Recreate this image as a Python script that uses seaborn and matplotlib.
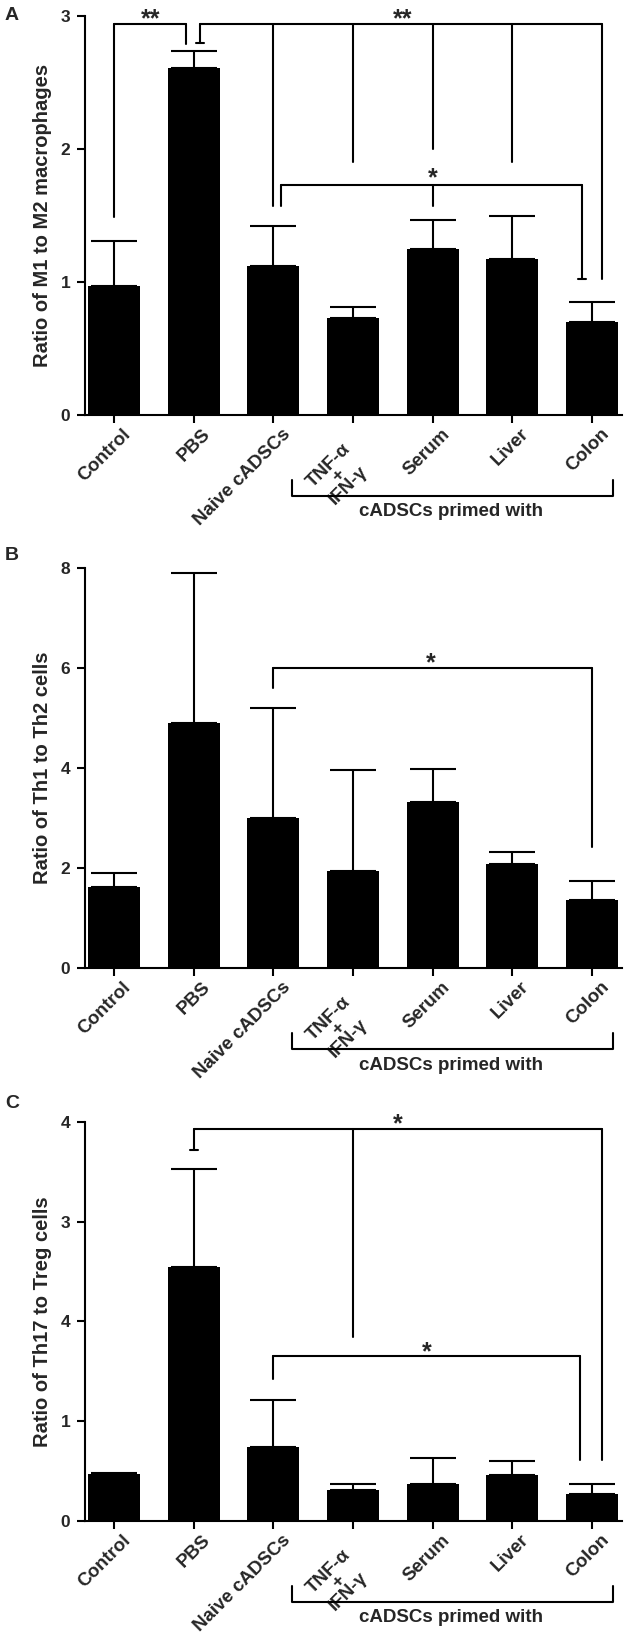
import numpy as np
import pandas as pd
import matplotlib
matplotlib.use("Agg")
import matplotlib.pyplot as plt
import matplotlib.transforms as mtransforms
import seaborn as sns

groups = ["Control", "PBS", "Naive cADSCs", "TNF-α\n+\nIFN-γ", "Serum", "Liver", "Colon"]

# panel A: M1/M2
m1m2_mean = [0.97, 2.61, 1.12, 0.73, 1.25, 1.17, 0.70]
m1m2_upper = [1.31, 2.74, 1.42, 0.81, 1.47, 1.50, 0.85]
# panel B: Th1/Th2
th1th2_mean = [1.62, 4.90, 3.00, 1.94, 3.32, 2.08, 1.36]
th1th2_upper = [1.90, 7.90, 5.20, 3.96, 3.97, 2.32, 1.74]
# panel C: Th17/Treg
th17treg_mean = [0.47, 2.55, 0.74, 0.31, 0.37, 0.46, 0.27]
th17treg_upper = [0.48, 3.53, 1.21, 0.37, 0.63, 0.60, 0.37]
th17treg_ticklabels = ["0", "1", "4", "3", "4"]

# significance brackets: drop positions, drop bottoms, bar height, serif ends, star and its centre
brackets_a = [
    dict(xs=[0, 0.9], bottoms=[1.49, 2.79], top=2.94, serif=[False, False], label="**", lx=0.46, ly=3.03),
    dict(xs=[1.08, 2.0, 3.0, 4.0, 5.0, 6.13], bottoms=[2.80, 1.57, 1.90, 2.0, 1.90, 1.02], top=2.94,
         serif=[True, False, False, False, False, False], label="**", lx=3.62, ly=3.03),
    dict(xs=[2.1, 4.0, 5.87], bottoms=[1.57, 1.57, 1.02], top=1.73,
         serif=[False, False, True], label="*", lx=4.0, ly=1.83),
]
brackets_b = [
    dict(xs=[2.0, 6.0], bottoms=[5.6, 2.42], top=6.0, serif=[False, False], label="*", lx=3.98, ly=6.24),
]
brackets_c = [
    dict(xs=[1.0, 3.0, 6.13], bottoms=[3.72, 1.84, 0.61], top=3.93, serif=[True, False, False], label="*", lx=3.56, ly=4.05),
    dict(xs=[2.0, 5.85], bottoms=[1.42, 0.61], top=1.65, serif=[False, False], label="*", lx=3.92, ly=1.76),
]

sns.set_style("white")
plt.rcParams["font.family"] = ["Liberation Sans", "DejaVu Sans"]
plt.rcParams["font.weight"] = "bold"
STAR_SIZE = 18


def draw_panel(ax, means, uppers, ylabel, yticks, brackets, yticklabels=None):
    df = pd.DataFrame({"group": groups, "value": means})
    sns.barplot(data=df, x="group", y="value", color="black", width=0.65,
                errorbar=None, ax=ax, saturation=1, edgecolor="black", linewidth=0)
    means = np.asarray(means)
    err = np.asarray(uppers) - means
    ax.errorbar(np.arange(len(means)), means, yerr=[np.zeros_like(err), err], fmt="none",
                ecolor="black", elinewidth=1.5, capsize=16.5, capthick=1.5)
    ax.set_xlim(-0.364, 6.377)
    ax.set_ylim(0, yticks[-1])
    ax.set_yticks(yticks)
    if yticklabels is not None:
        ax.set_yticklabels(yticklabels)
    ax.set_xlabel("")
    ax.set_ylabel(ylabel, fontsize=14.5, fontweight="bold", labelpad=6)
    sns.despine(ax=ax)
    for s in ["left", "bottom"]:
        ax.spines[s].set_linewidth(1.5)
        ax.spines[s].set_color("black")
    ax.tick_params(axis="both", direction="out", length=5.5, width=1.5, color="black",
                   labelsize=12.5, left=True, bottom=True)
    ax.tick_params(axis="y", pad=5)
    ax.tick_params(axis="x", pad=3)
    ax.set_xticks(range(len(groups)))
    ax.set_xticklabels(groups, rotation=45, ha="right", rotation_mode="anchor",
                       multialignment="center", fontsize=13.5, linespacing=0.78)
    for lbl in ax.get_xticklabels():
        dx, dy = (-8.0, -10.0) if "\n" in lbl.get_text() else (6.0, 1.0)
        offset = mtransforms.ScaledTranslation(dx / 72, dy / 72, ax.figure.dpi_scale_trans)
        lbl.set_transform(lbl.get_transform() + offset)

    for b in brackets:
        xs, bottoms = b["xs"], b["bottoms"]
        ax.plot([xs[0], xs[-1]], [b["top"], b["top"]], color="black", lw=1.5, clip_on=False)
        for x, y0, serif in zip(xs, bottoms, b["serif"]):
            ax.plot([x, x], [y0, b["top"]], color="black", lw=1.5, clip_on=False)
            if serif:
                ax.plot([x - 0.05, x + 0.05], [y0, y0], color="black", lw=1.5, clip_on=False)
        ax.annotate(b["label"], xy=(b["lx"], b["ly"]), xytext=(0, -0.56 * STAR_SIZE),
                    textcoords="offset points", ha="center", va="baseline",
                    fontsize=STAR_SIZE, fontweight="bold", annotation_clip=False)

    tr = mtransforms.blended_transform_factory(ax.transData, ax.transAxes)
    ax.plot([2.24, 2.24, 6.26, 6.26], [-0.163, -0.203, -0.203, -0.163], color="black",
            lw=1.5, transform=tr, clip_on=False)
    ax.text(4.23, -0.243, "cADSCs primed with", transform=tr, ha="center", va="center",
            fontsize=13.5, fontweight="bold")


fig = plt.figure(figsize=(6.26, 16.37), dpi=100)
left, width = 85 / 626, 537 / 626
ax_a = fig.add_axes([left, 0.7465, width, 0.2437])
ax_b = fig.add_axes([left, 0.4087, width, 0.2443])
ax_c = fig.add_axes([left, 0.0709, width, 0.2437])

draw_panel(ax_a, m1m2_mean, m1m2_upper, "Ratio of M1 to M2 macrophages", [0, 1, 2, 3], brackets_a)
draw_panel(ax_b, th1th2_mean, th1th2_upper, "Ratio of Th1 to Th2 cells", [0, 2, 4, 6, 8], brackets_b)
draw_panel(ax_c, th17treg_mean, th17treg_upper, "Ratio of Th17 to Treg cells", [0, 1, 2, 3, 4],
           brackets_c, yticklabels=th17treg_ticklabels)

for letter, ypix in [("A", 15), ("B", 556), ("C", 1103)]:
    fig.text(12 / 626, 1 - ypix / 1637, letter, ha="center", va="center", fontsize=14, fontweight="bold")

fig.savefig("out.png", dpi=100)
